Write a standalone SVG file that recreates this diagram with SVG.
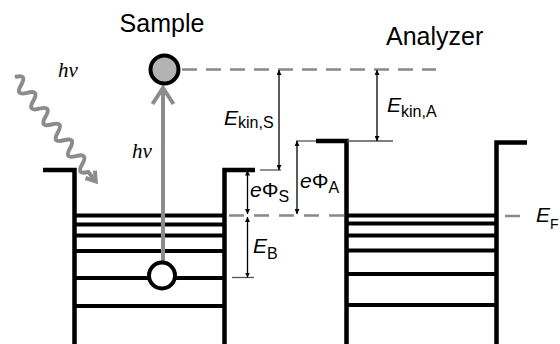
<svg xmlns="http://www.w3.org/2000/svg" width="560" height="344" viewBox="0 0 560 344">
<style>
.well{fill:none;stroke:#000;stroke-width:4.5;stroke-linejoin:miter}
.lvl{stroke:#000;stroke-width:4}
.dash{fill:none;stroke:#888;stroke-width:2.5;stroke-dasharray:15 9}
.thin{stroke:#555;stroke-width:1.3}
.dim{stroke:#000;stroke-width:1.3;marker-start:url(#ah);marker-end:url(#ah)}
.gray{fill:none;stroke:#8c8c8c;stroke-width:4}
.t{font-family:"Liberation Sans",Arial,sans-serif;fill:#000}
.it{font-style:italic}
.hv{font-family:"Liberation Serif","Times New Roman",serif;font-style:italic;font-size:21px;fill:#000}
</style>
<defs>
<marker id="ah" viewBox="0 0 10 10" refX="10" refY="5" markerWidth="5" markerHeight="5" orient="auto-start-reverse" markerUnits="userSpaceOnUse">
<path d="M0,0 L10,5 L0,10 z" fill="#000"/>
</marker>
</defs>
<rect width="560" height="344" fill="#fff"/>

<g id="sample-well">
<path class="well" d="M43,170 H74.5 V344"/>
<path class="well" d="M224.5,344 V170 H255"/>
<line class="lvl" x1="74.5" x2="224.5" y1="215.5" y2="215.5"/>
<line class="lvl" x1="74.5" x2="224.5" y1="224.5" y2="224.5"/>
<line class="lvl" x1="74.5" x2="224.5" y1="235.5" y2="235.5"/>
<line class="lvl" x1="74.5" x2="224.5" y1="251" y2="251"/>
<line class="lvl" x1="74.5" x2="224.5" y1="278" y2="278"/>
<line class="lvl" x1="74.5" x2="224.5" y1="306" y2="306"/>
</g>

<g id="analyzer-well">
<path class="well" d="M316,141 H346.5 V344"/>
<path class="well" d="M496.5,344 V142.5 H527"/>
<line class="lvl" x1="346.5" x2="496.5" y1="215.5" y2="215.5"/>
<line class="lvl" x1="346.5" x2="496.5" y1="223.5" y2="223.5"/>
<line class="lvl" x1="346.5" x2="496.5" y1="235.5" y2="235.5"/>
<line class="lvl" x1="346.5" x2="496.5" y1="250.5" y2="250.5"/>
<line class="lvl" x1="346.5" x2="496.5" y1="274" y2="274"/>
<line class="lvl" x1="346.5" x2="496.5" y1="305" y2="305"/>
</g>

<g id="connectors">
<line class="dash" x1="182" y1="69.5" x2="436" y2="69.5"/>
<line class="dash" x1="229" y1="215.5" x2="346" y2="215.5" style="stroke-dasharray:15 10"/>
<line class="dash" x1="505" y1="216" x2="523" y2="216"/>
<line class="thin" x1="260" y1="170" x2="281" y2="170"/>
<line class="thin" x1="296" y1="141" x2="316" y2="141"/>
<line class="thin" x1="347" y1="141" x2="393" y2="141"/>
<line class="thin" x1="232" y1="277.5" x2="254" y2="277.5"/>
<line class="dim" x1="279" y1="70" x2="279" y2="170"/>
<line class="dim" x1="377" y1="70" x2="377" y2="141"/>
<line class="dim" x1="247.5" y1="170.5" x2="247.5" y2="214"/>
<line class="dim" x1="247.5" y1="217" x2="247.5" y2="277.5"/>
<line class="dim" x1="297" y1="141" x2="297" y2="214"/>
<line class="gray" x1="163" y1="262" x2="163" y2="89"/>
<path class="gray" d="M152.5,104 L163,88 L173.5,104"/>
<g transform="translate(15,77) rotate(52.3)">
<path class="gray" d="M0,0 q5,-12 10,0 t10,0 t10,0 t10,0 t10,0 t10,0 t10,0 t10,0 t10,0 t10,0 t10,0 t10,0 L131,0"/>
<path class="gray" d="M123,-6 L132,0 L123,6" stroke-width="4"/>
</g>
</g>

<g id="electron-top">
<circle cx="164.5" cy="69.5" r="14" fill="#b3b3b3" stroke="#000" stroke-width="4"/>
</g>
<g id="electron-bottom">
<circle cx="162" cy="275.5" r="13" fill="#fff" stroke="#000" stroke-width="4"/>
</g>

<g id="labels">
<text class="t" x="162" y="31.5" font-size="25" text-anchor="middle">Sample</text>
<text class="t" x="386" y="45" font-size="25">Analyzer</text>
<text class="hv" x="58" y="77">hν</text>
<text class="hv" x="132" y="158">hν</text>
<text class="t" font-size="21" x="224" y="125"><tspan class="it">E</tspan><tspan font-size="16" dy="3">kin,S</tspan></text>
<text class="t" font-size="21" x="387" y="112"><tspan class="it">E</tspan><tspan font-size="16" dy="5">kin,A</tspan></text>
<text class="t" font-size="21" x="250" y="197"><tspan class="it">e</tspan>Φ<tspan font-size="16" dy="5">S</tspan></text>
<text class="t" font-size="21" x="300" y="188"><tspan class="it">e</tspan>Φ<tspan font-size="16" dy="5">A</tspan></text>
<text class="t" font-size="21" x="253" y="253"><tspan class="it">E</tspan><tspan font-size="16" dy="6">B</tspan></text>
<text class="t" font-size="21" x="536" y="222"><tspan class="it">E</tspan><tspan font-size="14" dy="7">F</tspan></text>
</g>
</svg>
